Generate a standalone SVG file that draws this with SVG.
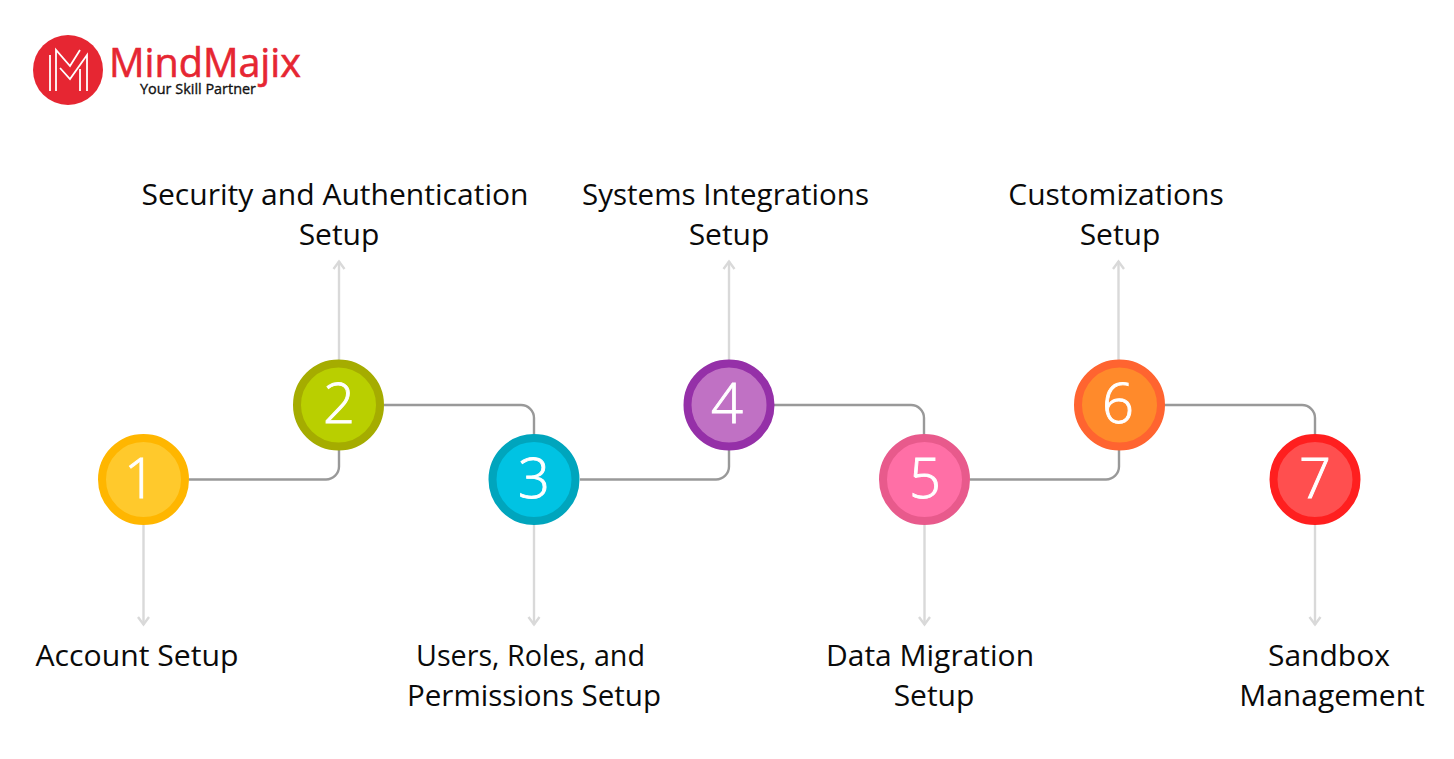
<svg xmlns="http://www.w3.org/2000/svg" width="1454" height="759" viewBox="0 0 1454 759">
<style>
.lab{font-family:"Open Sans","Noto Sans",sans-serif;font-size:30px;fill:#0a0a0a;text-anchor:middle}
.num{font-family:"Open Sans","Noto Sans",sans-serif;font-size:56px;font-weight:300;fill:#fff;stroke:#fff;stroke-width:0.9;text-anchor:middle}
.out{fill:none;stroke:#d9d9d9;stroke-width:2.4}
.link{fill:none;stroke:#999;stroke-width:2.4}
.ring{stroke-width:8}
</style>
<rect width="1454" height="759" fill="#fff"/>
<g id="logo">
<circle cx="68" cy="70" r="35" fill="#e62632"/>
<path d="M50 91V55M56 91V50L70 66L80 50M60 68L70 79L87 55V91M80 69V91" fill="none" stroke="#fff" stroke-width="1.8"/>
<text x="109" y="77" font-family="'Open Sans',sans-serif" font-size="40" fill="#e62632" stroke="#e62632" stroke-width="0.6" textLength="192" lengthAdjust="spacingAndGlyphs">MindMajix</text>
<text x="140" y="94" font-family="'Open Sans',sans-serif" font-size="15" fill="#111" stroke="#111" stroke-width="0.35" textLength="116" lengthAdjust="spacingAndGlyphs">Your Skill Partner</text>
</g>
<defs>
<marker id="ah" markerUnits="userSpaceOnUse" markerWidth="12" markerHeight="14" refX="9.500" refY="7" orient="auto" viewBox="0 0 12 14"><path d="M1.500 1.500L9 7L1.500 12.500" fill="none" stroke="#d9d9d9" stroke-width="2.400"/></marker>
</defs>
<g id="connectors">
<path class="out" d="M143.500 525V625" marker-end="url(#ah)"/>
<path class="out" d="M339 360V261" marker-end="url(#ah)"/>
<path class="out" d="M534 525V625" marker-end="url(#ah)"/>
<path class="out" d="M729 360V261" marker-end="url(#ah)"/>
<path class="out" d="M924.500 525V625" marker-end="url(#ah)"/>
<path class="out" d="M1118.500 360V261" marker-end="url(#ah)"/>
<path class="out" d="M1315 525V625" marker-end="url(#ah)"/>
<path class="link" d="M189 479.500H326a13 13 0 0 0 13-13V450"/>
<path class="link" d="M384 405H521a13 13 0 0 1 13 13V435"/>
<path class="link" d="M580 479.500H716a13 13 0 0 0 13-13V450"/>
<path class="link" d="M774 405H911a13 13 0 0 1 13 13V435"/>
<path class="link" d="M970 479.500H1106a13 13 0 0 0 13-13V450"/>
<path class="link" d="M1164 405H1302a13 13 0 0 1 13 13V435"/>
</g>
<g id="node1"><circle class="ring" cx="143.500" cy="479.500" r="41.500" fill="#ffc92c" stroke="#ffb600"/><text class="num" x="140" y="498">1</text><text class="lab" x="137" y="665.500" textLength="203" lengthAdjust="spacingAndGlyphs">Account Setup</text></g>
<g id="node2"><circle class="ring" cx="338.500" cy="405" r="41.500" fill="#b9cf00" stroke="#a5ac00"/><text class="num" x="339" y="423">2</text><text class="lab" x="335" y="205" textLength="387" lengthAdjust="spacingAndGlyphs">Security and Authentication</text><text class="lab" x="339" y="245">Setup</text></g>
<g id="node3"><circle class="ring" cx="534" cy="479.500" r="41.500" fill="#00c3e3" stroke="#00a5bd"/><text class="num" x="534" y="498">3</text><text class="lab" x="530.500" y="665.500" textLength="229" lengthAdjust="spacingAndGlyphs">Users, Roles, and</text><text class="lab" x="534" y="705.500" textLength="254" lengthAdjust="spacingAndGlyphs">Permissions Setup</text></g>
<g id="node4"><circle class="ring" cx="729" cy="405" r="41.500" fill="#c071c4" stroke="#9530a8"/><text class="num" x="727" y="423">4</text><text class="lab" x="725.500" y="205" textLength="287" lengthAdjust="spacingAndGlyphs">Systems Integrations</text><text class="lab" x="729" y="245">Setup</text></g>
<g id="node5"><circle class="ring" cx="924.500" cy="479.500" r="41.500" fill="#ff6fa6" stroke="#e85a8c"/><text class="num" x="925" y="498">5</text><text class="lab" x="930" y="665.500">Data Migration</text><text class="lab" x="934" y="705.500">Setup</text></g>
<g id="node6"><circle class="ring" cx="1119.500" cy="405" r="41.500" fill="#ff8a2b" stroke="#ff6430"/><text class="num" x="1118" y="423">6</text><text class="lab" x="1116" y="205">Customizations</text><text class="lab" x="1120" y="245">Setup</text></g>
<g id="node7"><circle class="ring" cx="1315" cy="479.500" r="41.500" fill="#ff4f4f" stroke="#ff1f1f"/><text class="num" x="1315" y="498">7</text><text class="lab" x="1329" y="665.500">Sandbox</text><text class="lab" x="1332" y="705.500">Management</text></g>
</svg>
